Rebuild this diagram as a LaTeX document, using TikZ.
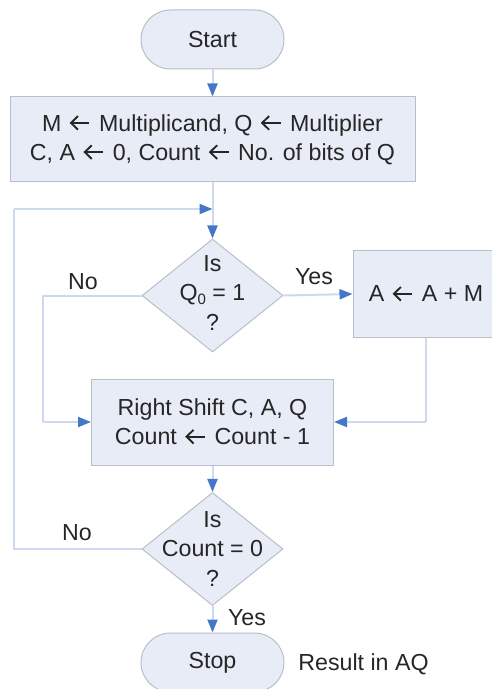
\documentclass[tikz,border=0pt]{standalone}
\usepackage{fontspec}
\setmainfont{Liberation Sans}
\usetikzlibrary{shapes.geometric,arrows.meta}

\definecolor{shapefill}{HTML}{E7ECF6}
\definecolor{shapeline}{HTML}{B9BFC8}
\definecolor{wire}{HTML}{CCD9EE}
\definecolor{tipblue}{HTML}{4676C8}
\definecolor{inkgray}{HTML}{262626}

\tikzset{
  x=0.5pt, y=-0.5pt,
  every node/.style={text=inkgray, font=\fontsize{11.6}{14.6}\selectfont},
  terminal/.style={draw=shapeline, fill=shapefill, line width=0.5pt,
    rectangle, rounded corners=14.75pt, minimum width=71.5pt, minimum height=29.5pt, inner sep=0pt},
  process/.style={draw=shapeline, fill=shapefill, line width=0.5pt,
    rectangle, inner sep=0pt, align=center},
  decision/.style={draw=shapeline, fill=shapefill, line width=0.5pt,
    diamond, inner sep=0pt, minimum width=70.5pt, minimum height=56.5pt},
  caption/.style={align=center, inner sep=0pt},
  flow/.style={draw=wire, line width=1pt,
    -{Triangle[length=6.5pt, width=5pt, color=tipblue, fill=tipblue]}},
  wireonly/.style={draw=wire, line width=1pt},
  tag/.style={anchor=base, inner sep=0pt}
}

% assignment arrow: a short shaft with an open chevron head
\newcommand{\getsarrow}{\tikz[baseline=0pt, x=1pt, y=1pt]{%
  \path (0,0) rectangle (12.4,1);
  \draw[inkgray, line width=0.95pt, line cap=butt] (1.6,4.1) -- (10.8,4.1);
  \draw[inkgray, line width=0.95pt, line join=miter] (5.1,0.7) -- (1.6,4.1) -- (5.1,7.5);}}

\begin{document}
\begin{tikzpicture}
  \useasboundingbox (0,0) rectangle (492,689);
  \clip (0,0) rectangle (492,689);

  % shapes
  \node[terminal] (start) at (212.5,39.5) {Start};
  \node[process, minimum width=202.5pt, minimum height=42.5pt] (init) at (212.5,139.5)
    {M \getsarrow{} Multiplicand, Q \getsarrow{} Multiplier\\C, A \getsarrow{} 0, Count \getsarrow{} No. of bits of Q};
  \node[decision] (testq) at (212.5,295.5) {};
  \node[caption] at (212.5,293) {Is\\Q\raisebox{-0.3ex}{\fontsize{7.5}{8}\selectfont 0} = 1\\?};
  \node[process, minimum width=73pt, minimum height=43pt] (add) at (426,294) {A \getsarrow{} A + M};
  \node[process, minimum width=121pt, minimum height=43pt] (shift) at (212.5,422)
    {Right Shift C, A, Q\\Count \getsarrow{} Count - 1};
  \node[decision] (testc) at (212.5,549) {};
  \node[caption] at (212.5,549) {Is\\Count = 0\\?};
  \node[terminal] (stop) at (212.5,662.5) {Stop};

  % junction points of the loops
  \coordinate (merge) at (212.5,209);
  \coordinate (loopbl) at (14,549);
  \coordinate (looptl) at (14,209);
  \coordinate (nol) at (43,295.5);
  \coordinate (nob) at (43,422);
  \coordinate (addb) at (426,422);

  % connectors
  \draw[flow] (start) -- (init);
  \draw[flow] (init) -- (testq);
  \draw[wireonly] (testc.west) -- (loopbl) -- (looptl);
  \draw[flow] (looptl) -- (merge);
  \draw[flow] (testq.east) -- (add.west);
  \draw[wireonly] (testq.west) -- (nol) -- (nob);
  \draw[flow] (nob) -- (shift.west);
  \draw[wireonly] (add.south) -- (addb);
  \draw[flow] (addb) -- (shift.east);
  \draw[flow] (shift) -- (testc);
  \draw[flow] (testc) -- (stop);

  % branch labels
  \node[tag] at (83,289) {No};
  \node[tag] at (314,285) {Yes};
  \node[tag] at (77,540) {No};
  \node[tag] at (247,625.5) {Yes};
  \node[tag, anchor=base west] at (298,670) {Result in AQ};
\end{tikzpicture}
\end{document}
